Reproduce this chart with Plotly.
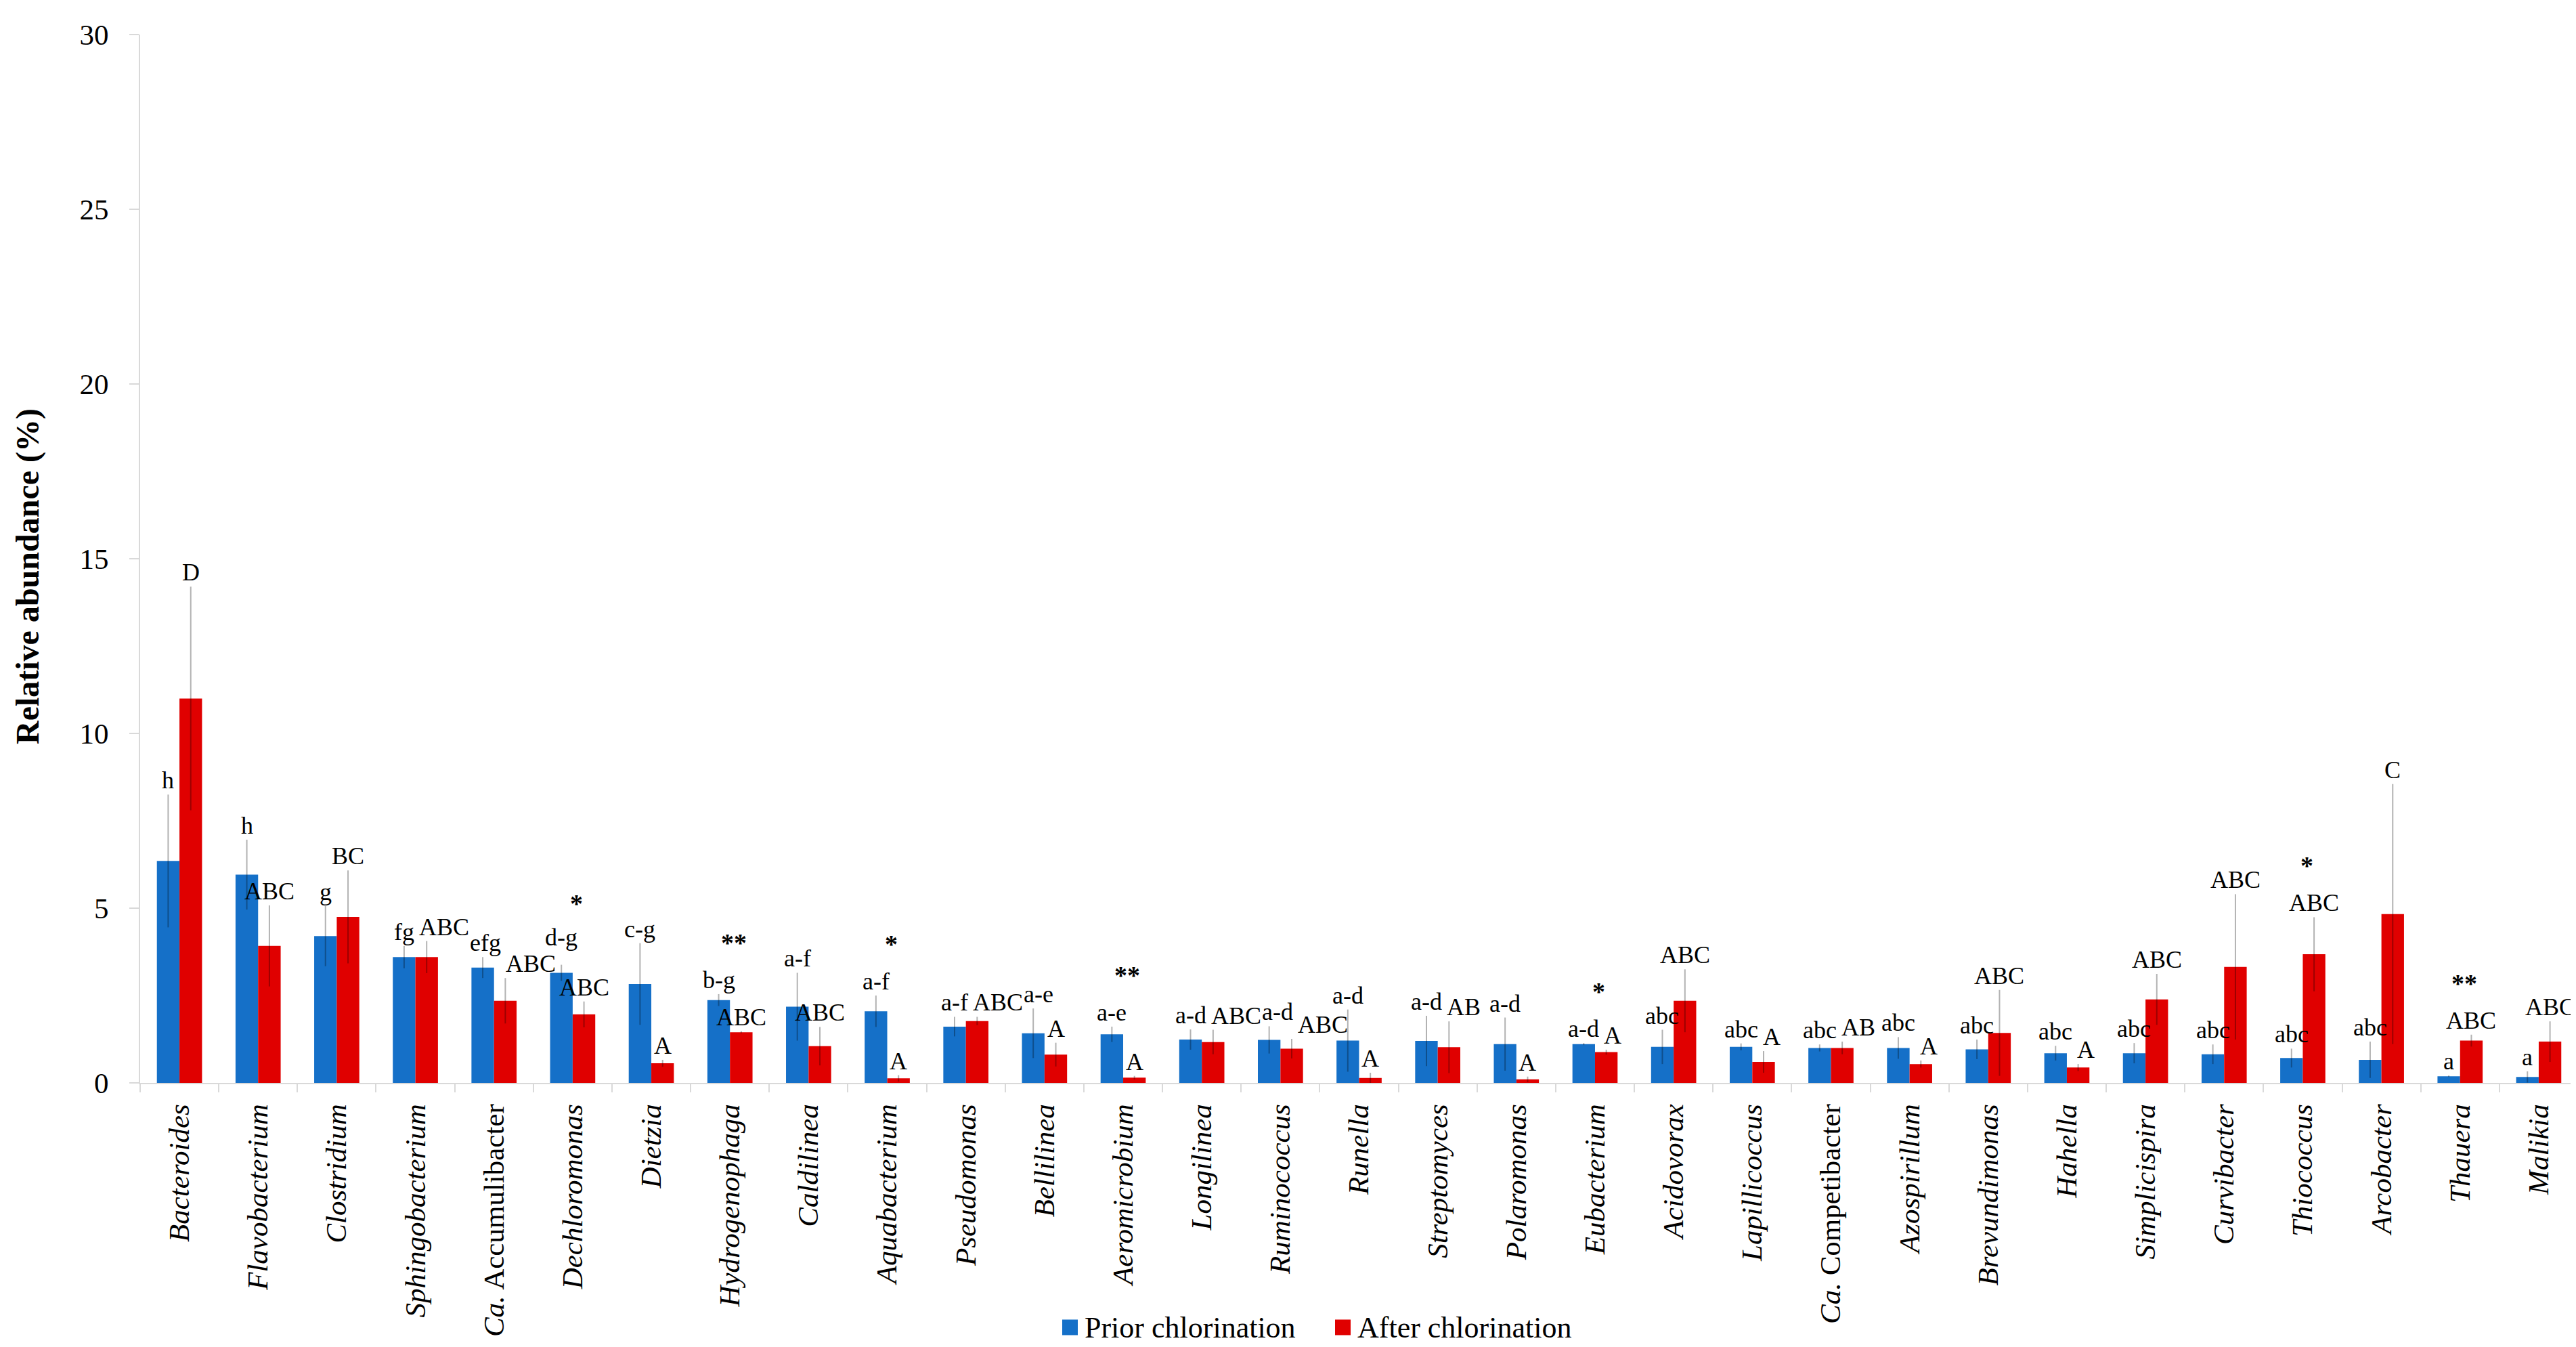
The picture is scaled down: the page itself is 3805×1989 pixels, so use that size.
import plotly.graph_objects as go

genera = ["Bacteroides", "Flavobacterium", "Clostridium", "Sphingobacterium", "Ca. Accumulibacter",
          "Dechloromonas", "Dietzia", "Hydrogenophaga", "Caldilinea", "Aquabacterium",
          "Pseudomonas", "Bellilinea", "Aeromicrobium", "Longilinea", "Ruminococcus",
          "Runella", "Streptomyces", "Polaromonas", "Eubacterium", "Acidovorax",
          "Lapillicoccus", "Ca. Competibacter", "Azospirillum", "Brevundimonas", "Hahella",
          "Simplicispira", "Curvibacter", "Thiococcus", "Arcobacter", "Thauera", "Malikia"]

prior = [6.35, 5.96, 4.20, 3.60, 3.30, 3.15, 2.83, 2.37, 2.18, 2.05,
         1.61, 1.42, 1.39, 1.24, 1.23, 1.21, 1.20, 1.11, 1.11, 1.03,
         1.03, 1.00, 1.00, 0.96, 0.85, 0.85, 0.82, 0.71, 0.66, 0.19, 0.17]
prior_err = [1.90, 1.00, 0.86, 0.32, 0.30, 0.23, 1.17, 0.17, 0.97, 0.45,
             0.28, 0.71, 0.22, 0.29, 0.39, 0.89, 0.72, 0.76, 0.03, 0.49,
             0.10, 0.10, 0.31, 0.28, 0.21, 0.29, 0.28, 0.27, 0.52, 0.02, 0.16]
after = [11.00, 3.92, 4.75, 3.60, 2.35, 1.96, 0.56, 1.45, 1.05, 0.13,
         1.77, 0.81, 0.15, 1.17, 0.98, 0.14, 1.02, 0.10, 0.88, 2.35,
         0.60, 1.00, 0.54, 1.43, 0.44, 2.39, 3.32, 3.68, 4.83, 1.21, 1.18]
after_err = [3.20, 1.16, 1.33, 0.46, 0.65, 0.37, 0.10, 0.03, 0.55, 0.09,
             0.12, 0.34, 0.05, 0.35, 0.28, 0.15, 0.74, 0.08, 0.07, 0.90,
             0.31, 0.18, 0.10, 1.23, 0.10, 0.73, 2.08, 1.06, 3.72, 0.17, 0.58]

prior_labels = ["h", "h", "g", "fg", "efg", "d-g", "c-g", "b-g", "a-f", "a-f",
                "a-f", "a-e", "a-e", "a-d", "a-d", "a-d", "a-d", "a-d", "a-d", "abc",
                "abc", "abc", "abc", "abc", "abc", "abc", "abc", "abc", "abc", "a", "a"]
after_labels = ["D", "ABC", "BC", "ABC", "ABC", "ABC", "A", "ABC", "ABC", "A",
                "ABC", "A", "A", "ABC", "ABC", "A", "AB", "A", "A", "ABC",
                "A", "AB", "A", "ABC", "A", "ABC", "ABC", "ABC", "C", "ABC", "ABC"]
significance = ["", "", "", "", "", "*", "", "**", "", "*",
                "", "", "**", "", "", "", "", "", "*", "",
                "", "", "", "", "", "", "", "*", "", "**", ""]

series_names = ["Prior chlorination", "After chlorination"]
y_title = "Relative abundance (%)"
y_ticks = [0, 5, 10, 15, 20, 25, 30]

BLUE = "#1570C8"
RED = "#E00000"
FONT = "Liberation Serif"

W, H = 3805, 1989
ML, MR, MT, MB = 199, 5, 43, 398
PW, PH = W - ML - MR, H - MT - MB
YMAX = 30
unit_px = PH / YMAX
cat_px = PW / len(genera)
BARGAP = 0.426
bar_px = cat_px * (1 - BARGAP) / 2
LABEL_SIZE = 36
LABEL_LIFT = 21
STAR_SIZE = 38

# approximate Times glyph widths (em) for label overlap avoidance
em = {"a": .444, "b": .5, "c": .444, "d": .5, "e": .444, "f": .333, "g": .5, "h": .5,
      "-": .333, "A": .722, "B": .667, "C": .667, "D": .722, "*": .5}


def text_w(s, size=LABEL_SIZE):
    return sum(em.get(ch, .5) for ch in s) * size


def px2x(px):
    return (px - ML) / PW


def px2y(py):
    return (H - MB - py) / PH


def tick_text(name):
    if name.startswith("Ca. "):
        return "<i>Ca.</i> " + name[4:]
    return "<i>" + name + "</i>"


placed = []  # boxes (cx, cy, w, h) in plot pixels, y upward


def hit(cx, cy, w, h):
    return any(abs(cx - ox) < (w + ow) / 2 and abs(cy - oy) < (h + oh) / 2
               for ox, oy, ow, oh in placed)


def free_spot(cx, cy, w, h, nudges=(0,)):
    """Try small sideways nudges first, then lift the label until it is free."""
    for dx in nudges:
        if not hit(cx + dx, cy, w, h):
            placed.append((cx + dx, cy, w, h))
            return dx, cy
    while hit(cx, cy, w, h):
        cy += 2
    placed.append((cx, cy, w, h))
    return 0, cy


fig = go.Figure()
fig.add_trace(go.Bar(
    x=genera, y=prior, name=series_names[0], marker=dict(color=BLUE, line=dict(width=0)),
    error_y=dict(type="data", array=prior_err, symmetric=True, color="rgba(0,0,0,0.3)",
                 thickness=2, width=0),
    showlegend=False))
fig.add_trace(go.Bar(
    x=genera, y=after, name=series_names[1], marker=dict(color=RED, line=dict(width=0)),
    error_y=dict(type="data", array=after_err, symmetric=True, color="rgba(0,0,0,0.3)",
                 thickness=2, width=0),
    showlegend=False))

annotations = []
lab_h = LABEL_SIZE * 1.1
for i, g in enumerate(genera):
    c = (i + 0.5) * cat_px
    tb = prior[i] + prior_err[i]
    tr = after[i] + after_err[i]
    wb, wr = text_w(prior_labels[i]) + 1, text_w(after_labels[i]) + 1
    bx = -bar_px / 2
    dxb, yb = free_spot(c + bx, tb * unit_px + LABEL_LIFT, wb, lab_h, nudges=(0, 4, 8, 12, 16))
    bx += dxb
    rx = bar_px / 2
    yr0 = tr * unit_px + LABEL_LIFT
    if abs(yb - yr0) < lab_h:
        need = bx + wb / 2 + 6 + wr / 2
        if need > rx:
            rx = need
    dxr, yr = free_spot(c + rx, yr0, wr, lab_h, nudges=(0, 4, 8))
    rx += dxr
    annotations.append(dict(x=g, y=tb, text=prior_labels[i], showarrow=False, xshift=bx,
                            yshift=yb - tb * unit_px, yanchor="middle",
                            font=dict(family=FONT, size=LABEL_SIZE, color="black")))
    annotations.append(dict(x=g, y=tr, text=after_labels[i], showarrow=False, xshift=rx,
                            yshift=yr - tr * unit_px, yanchor="middle",
                            font=dict(family=FONT, size=LABEL_SIZE, color="black")))
    if significance[i]:
        top = max(tb, tr)
        ys = max(top * unit_px + 76, max(yb, yr) + 50)
        annotations.append(dict(x=g, y=top, text="<b>" + significance[i] + "</b>",
                                showarrow=False, xshift=6, yshift=ys - top * unit_px,
                                yanchor="middle",
                                font=dict(family=FONT, size=STAR_SIZE, color="black")))

# y-axis title placed as rotated text
annotations.append(dict(xref="paper", yref="paper", x=px2x(33), y=px2y(843), text="<b>" + y_title + "</b>",
                        textangle=-90, showarrow=False, xanchor="center", yanchor="middle",
                        font=dict(family=FONT, size=48, color="black")))

# legend drawn as keys + text (larger square keys than plotly's legend allows)
shapes = []
legend_y = 1952
for nm, col, kx in [(series_names[0], BLUE, 1561), (series_names[1], RED, 1964)]:
    shapes.append(dict(type="rect", xref="paper", yref="paper",
                       x0=px2x(kx), x1=px2x(kx + 23), y0=px2y(legend_y - 11.5), y1=px2y(legend_y + 11.5),
                       fillcolor=col, line=dict(width=0)))
    annotations.append(dict(xref="paper", yref="paper", x=px2x(kx + 31), y=px2y(legend_y),
                            xanchor="left", yanchor="middle", text=nm, showarrow=False,
                            font=dict(family=FONT, size=44, color="black")))

fig.update_layout(
    width=W, height=H,
    margin=dict(l=ML, r=MR, t=MT, b=MB),
    plot_bgcolor="white", paper_bgcolor="white",
    barmode="group", bargap=BARGAP, bargroupgap=0,
    font=dict(family=FONT, color="black"),
    annotations=annotations, shapes=shapes, showlegend=False,
    xaxis=dict(
        type="category", tickmode="array", tickvals=genera, ticktext=[tick_text(g) for g in genera],
        tickangle=-90, tickfont=dict(family=FONT, size=43, color="black"),
        showline=True, linecolor="#D9D9D9", linewidth=2,
        ticks="outside", tickson="boundaries", ticklen=12, tickcolor="#D9D9D9", tickwidth=2,
        showgrid=False, ticklabelstandoff=12, automargin=False),
    yaxis=dict(
        range=[0, YMAX], tickvals=y_ticks, tickfont=dict(family=FONT, size=43, color="black"),
        showline=True, linecolor="#D9D9D9", linewidth=2,
        ticks="outside", ticklen=14, tickcolor="#D9D9D9", tickwidth=2,
        showgrid=False, zeroline=False, ticklabelstandoff=22, automargin=False),
)

fig.write_html("out.html")
